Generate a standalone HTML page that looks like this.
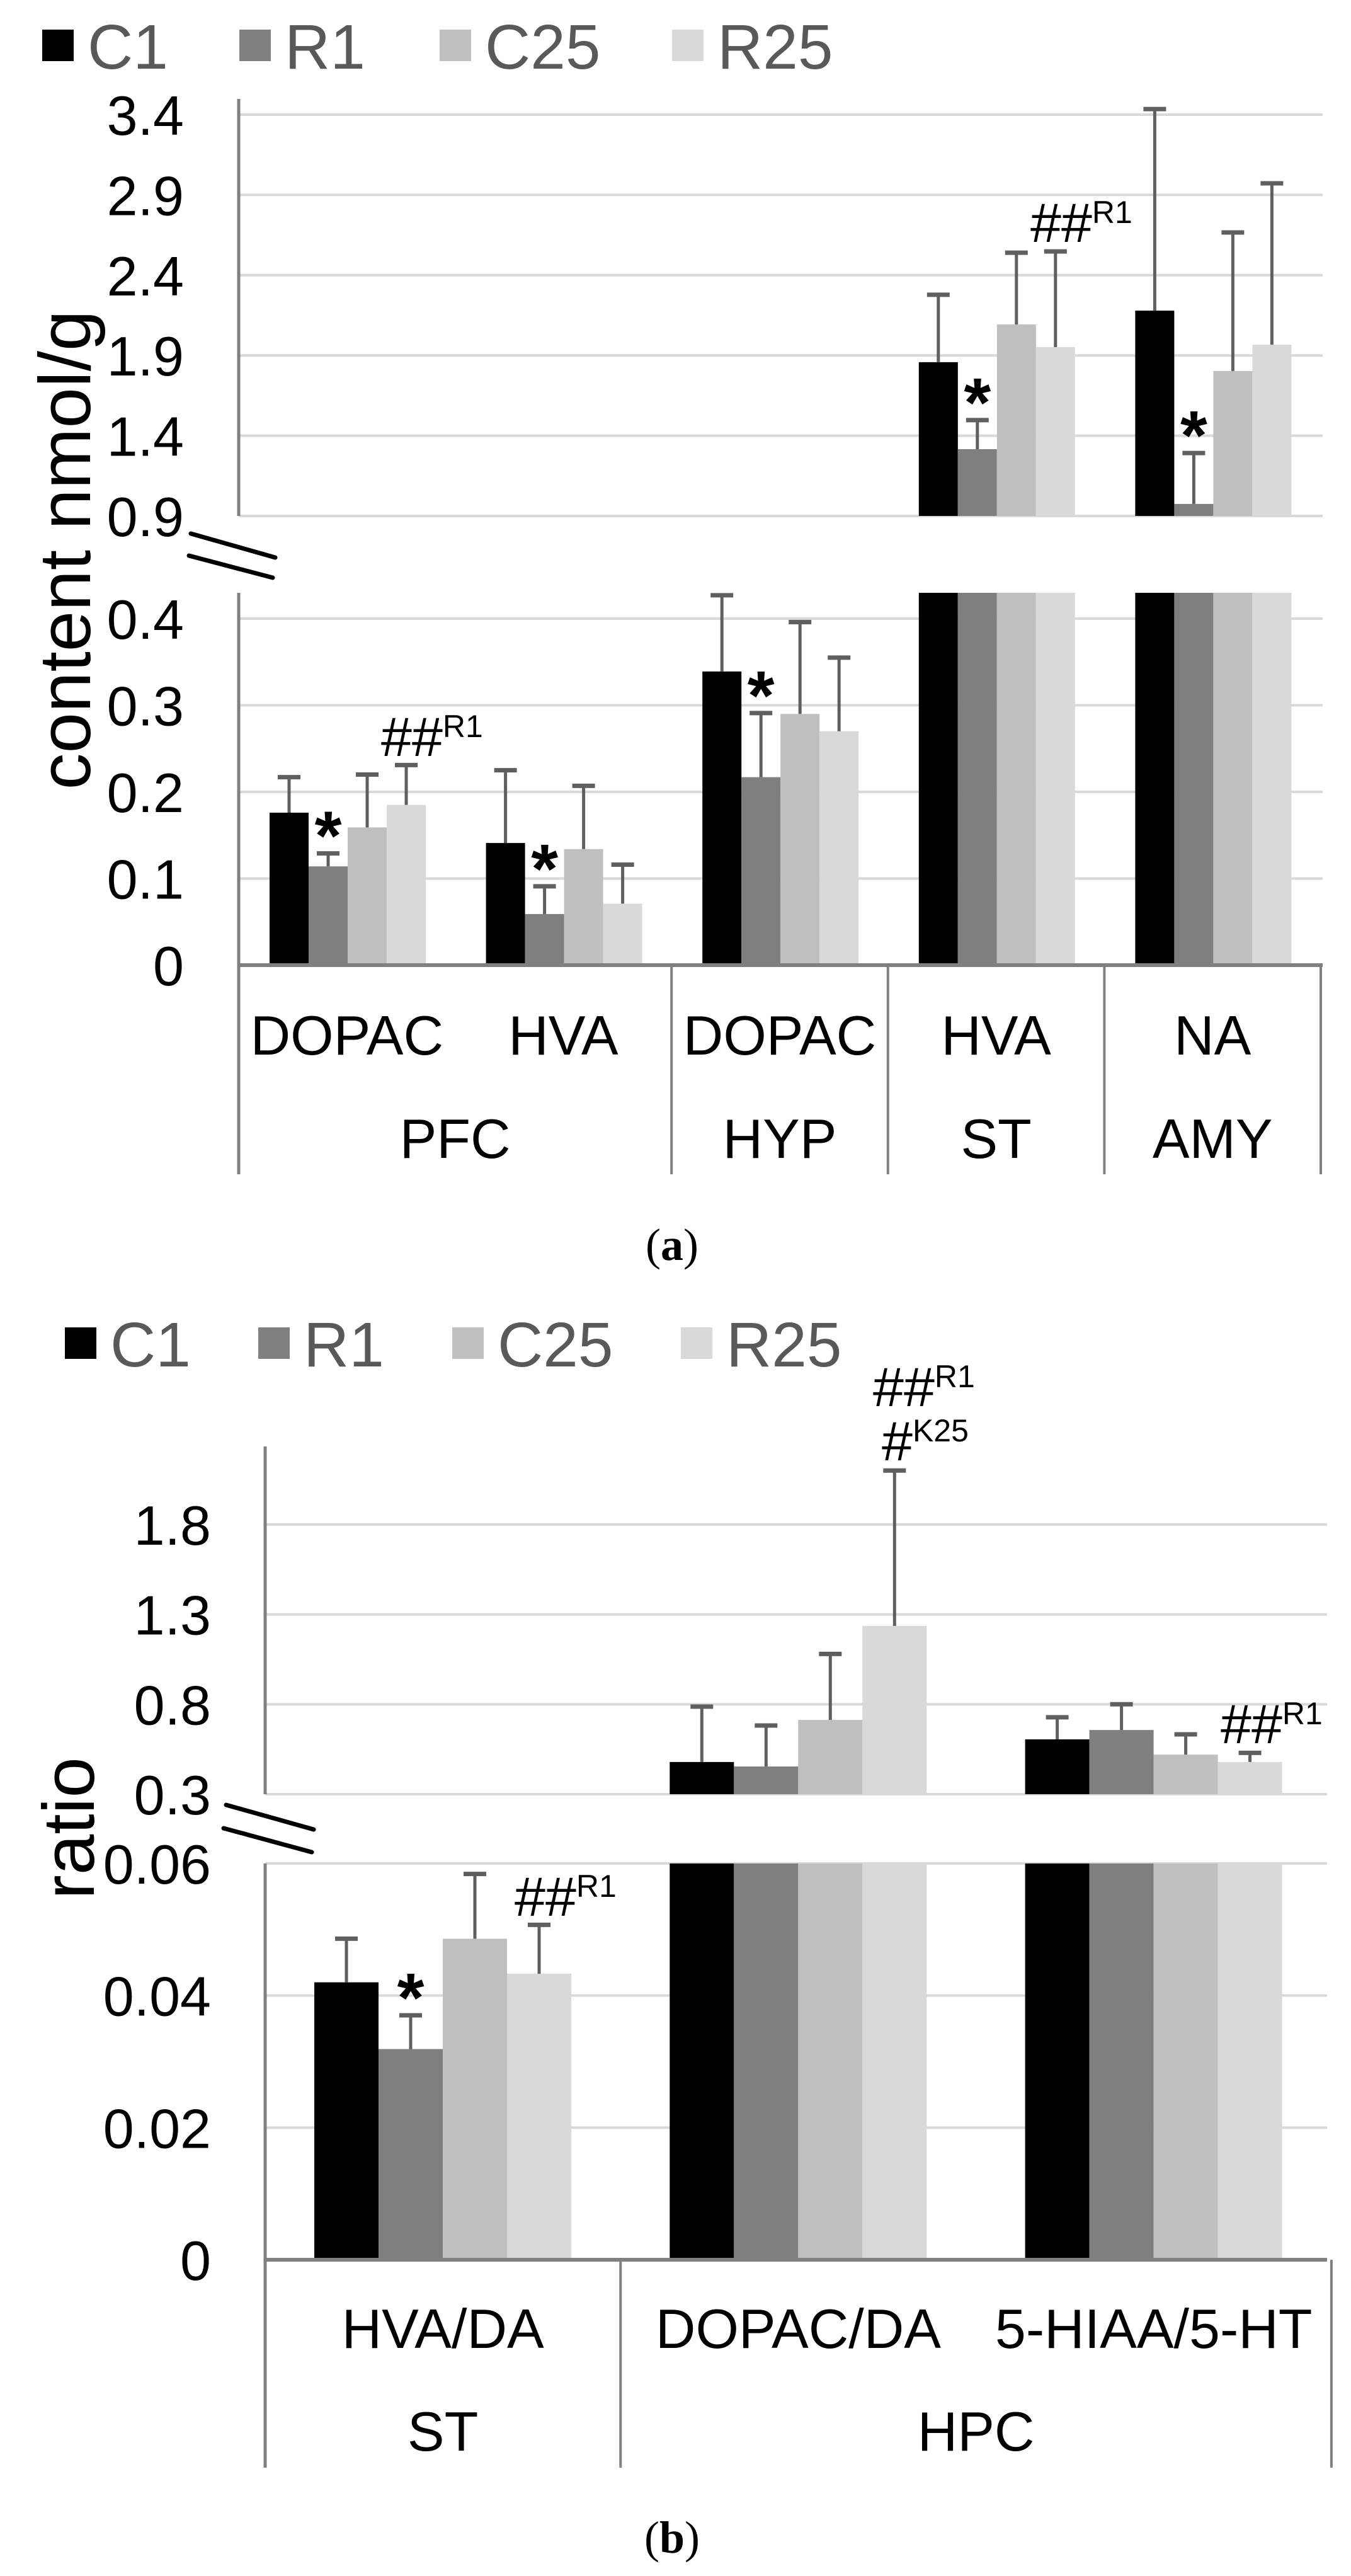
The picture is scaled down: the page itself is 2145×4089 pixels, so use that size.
<!DOCTYPE html>
<html><head><meta charset="utf-8"><style>
html,body{margin:0;padding:0;background:#fff;}
svg{display:block;}
text{font-family:"Liberation Sans",Arial,sans-serif;}
</style></head>
<body>
<svg id="chart" width="2145" height="4089" viewBox="0 0 2145 4089" xmlns="http://www.w3.org/2000/svg"></svg>
<script>
// ---------- DATA ----------
const seriesNames = ["C1", "R1", "C25", "R25"];
const seriesColors = ["#000000", "#7f7f7f", "#bfbfbf", "#d9d9d9"];

// Panel (a): content nmol/g
const aCategories = ["DOPAC", "HVA", "DOPAC", "HVA", "NA"];
const aRegions = ["PFC", "HYP", "ST", "AMY"];
const aRegionSizes = [2, 1, 1, 1];
const aC1 = [0.176, 0.141, 0.339, 1.858, 2.179];
const aR1 = [0.114, 0.059, 0.217, 1.316, 0.975];
const aC25 = [0.159, 0.134, 0.290, 2.093, 1.803];
const aR25 = [0.185, 0.071, 0.270, 1.952, 1.967];
const aC1Err = [0.217, 0.225, 0.427, 2.278, 3.435];
const aR1Err = [0.129, 0.091, 0.291, 1.497, 1.292];
const aC25Err = [0.220, 0.207, 0.396, 2.540, 2.666];
const aR25Err = [0.231, 0.116, 0.355, 2.548, 2.972];
const aLowerTicks = [0, 0.1, 0.2, 0.3, 0.4];
const aUpperTicks = [0.9, 1.4, 1.9, 2.4, 2.9, 3.4];
const aLowerTickLabels = ["0", "0.1", "0.2", "0.3", "0.4"];
const aUpperTickLabels = ["0.9", "1.4", "1.9", "2.4", "2.9", "3.4"];

// Panel (b): ratio
const bCategories = ["HVA/DA", "DOPAC/DA", "5-HIAA/5-HT"];
const bRegions = ["ST", "HPC"];
const bRegionSizes = [1, 2];
const bC1 = [0.042, 0.479, 0.605];
const bR1 = [0.0319, 0.454, 0.657];
const bC25 = [0.0486, 0.713, 0.520];
const bR25 = [0.0433, 1.236, 0.479];
const bC1Err = [0.0486, 0.787, 0.728];
const bR1Err = [0.037, 0.682, 0.800];
const bC25Err = [0.0584, 1.080, 0.633];
const bR25Err = [0.0507, 2.100, 0.530];
const bLowerTicks = [0, 0.02, 0.04, 0.06];
const bUpperTicks = [0.3, 0.8, 1.3, 1.8];
const bLowerTickLabels = ["0", "0.02", "0.04", "0.06"];
const bUpperTickLabels = ["0.3", "0.8", "1.3", "1.8"];

// ---------- DRAWING ----------
const NS = "http://www.w3.org/2000/svg";
const svg = document.getElementById("chart");
function mk(tag, attrs, parent) {
  const e = document.createElementNS(NS, tag);
  for (const k in attrs) e.setAttribute(k, attrs[k]);
  (parent || svg).appendChild(e);
  return e;
}

function drawPanel(P) {
  const g = mk("g", {});
  
  
  // axis functions
  const lowerMax = (P.lowerBase - P.lowerTop) / P.lowerPx;
  function yLower(v) { return P.lowerBase - v * P.lowerPx; }
  function yUpper(v) { return P.upperBase - (v - P.upperMin) * P.upperPx; }
  function yVal(v) { return v <= lowerMax ? yLower(v) : yUpper(v); }
  function xBar(gi, si) { return P.axisX + gi * P.groupW + P.barOff + si * P.barW; }

  // gridlines
  P.lowerTicks.forEach((t, i) => {
    const y = yLower(t);
    if (t > 0) {
      const l = mk("line", {x1: P.axisX, x2: P.right, y1: y, y2: y, stroke: "#d9d9d9", "stroke-width": 4}, g);
      
      
    }
    const tx = mk("text", {x: P.tickRight, y: y + 32, "text-anchor": "end", "font-size": 88, fill: "#000"}, g);
    tx.textContent = P.lowerTickLabels[i];
    
    
  });
  P.upperTicks.forEach((t, i) => {
    const y = yUpper(t);
    const l = mk("line", {x1: P.axisX, x2: P.right, y1: y, y2: y, stroke: "#d9d9d9", "stroke-width": 4}, g);
    
    
    const tx = mk("text", {x: P.tickRight, y: y + 32, "text-anchor": "end", "font-size": 88, fill: "#000"}, g);
    tx.textContent = P.upperTickLabels[i];
    
    
  });

  // bars
  P.series.forEach((vals, si) => {
    vals.forEach((v, gi) => {
      const x = xBar(gi, si);
      if (v <= lowerMax) {
        const r = mk("rect", {x: x, y: yLower(v), width: P.barW, height: P.lowerBase - yLower(v), fill: seriesColors[si]}, g);
        
        
      } else {
        const r1 = mk("rect", {x: x, y: P.lowerTop, width: P.barW, height: P.lowerBase - P.lowerTop, fill: seriesColors[si]}, g);
        
        
        const r2 = mk("rect", {x: x, y: yUpper(v), width: P.barW, height: P.upperBase - yUpper(v), fill: seriesColors[si]}, g);
        
        
      }
    });
  });
  // error bars
  P.errs.forEach((errs, si) => {
    errs.forEach((e, gi) => {
      const cx = xBar(gi, si) + P.barW / 2;
      const y0 = yVal(P.series[si][gi]);
      const y1 = yVal(e);
      const eg = mk("g", {stroke: "#5f5f5f", "stroke-width": 5}, g);
      
      
      mk("line", {x1: cx, x2: cx, y1: y0, y2: y1}, eg);
      mk("line", {x1: cx - 18, x2: cx + 18, y1: y1, y2: y1, "stroke-width": 7}, eg);
    });
  });

  // axes
  const ax = mk("g", {stroke: "#808080", "stroke-width": 5, fill: "none"}, g);
  
  
  mk("line", {x1: P.axisX, x2: P.axisX, y1: P.upperTopAxis, y2: P.upperBase}, ax);
  mk("line", {x1: P.axisX, x2: P.axisX, y1: P.lowerTop, y2: P.catBottom}, ax);
  const xa = mk("line", {x1: P.axisX, x2: P.right, y1: P.lowerBase, y2: P.lowerBase, stroke: "#808080", "stroke-width": 6}, g);
  
  
  // region separators
  let acc = 0;
  const seps = [0];
  P.regionSizes.forEach(s => { acc += s; seps.push(acc); });
  seps.forEach(k => {
    const x = P.axisX + k * P.groupW;
    const l = mk("line", {x1: x, x2: x, y1: P.lowerBase, y2: P.catBottom, stroke: "#808080", "stroke-width": 4}, g);
    
    
  });
  // category labels
  P.categories.forEach((c, gi) => {
    const t = mk("text", {x: P.axisX + (gi + 0.5) * P.groupW, y: P.catY1, "text-anchor": "middle", "font-size": 88, fill: "#000"}, g);
    t.textContent = c;
    
    
  });
  P.regions.forEach((r, ri) => {
    const x = P.axisX + (seps[ri] + seps[ri + 1]) / 2 * P.groupW;
    const t = mk("text", {x: x, y: P.catY2, "text-anchor": "middle", "font-size": 88, fill: "#000"}, g);
    t.textContent = r;
    
    
  });

  // break marks
  const br = mk("g", {stroke: "#000", "stroke-width": 7, "stroke-linecap": "round"}, g);
  
  
  P.breakLines.forEach(b => mk("line", {x1: b[0], y1: b[1], x2: b[2], y2: b[3]}, br));

  // y title
  const yt = mk("text", {x: 0, y: 0, "text-anchor": "middle", "font-size": 116, fill: "#000",
    transform: "translate(" + P.titleX + "," + P.titleY + ") rotate(-90)"}, g);
  yt.textContent = P.title;
  
  

  // legend
  P.legendX.forEach((lx, si) => {
    const lg = mk("g", {}, g);
    
    
    mk("rect", {x: lx, y: P.legendY - 26, width: 50, height: 50, fill: seriesColors[si]}, lg);
    const t = mk("text", {x: lx + 72, y: P.legendY + 36, "font-size": 100, fill: "#595959"}, lg);
    t.textContent = seriesNames[si];
  });

  // asterisks above R1 error bars (from data)
  P.starGroups.forEach(gi => {
    const cx = xBar(gi, 1) + P.barW / 2;
    const t = mk("text", {x: cx, y: yVal(P.errs[1][gi]) + 10, "text-anchor": "middle", "font-size": 110, "font-weight": "bold", fill: "#000"}, g);
    t.textContent = "*";
    
    
  });
  // hash annotations
  P.hashes.forEach(h => {
    const t = mk("text", {x: h[0], y: h[1], "font-size": 88, fill: "#000"}, g);
    
    
    t.appendChild(document.createTextNode(h[2]));
    const s = mk("tspan", {"font-size": 50, dy: -30}, t);
    s.textContent = h[3];
  });
}

drawPanel({
  name: "panel-a-chart", axisX: 379, right: 2100, groupW: 343.6, barOff: 49, barW: 62,
  lowerBase: 1532, lowerPx: 1375, lowerTop: 941, upperBase: 819, upperMin: 0.9, upperPx: 254.8,
  upperTopAxis: 157, catBottom: 1864, catY1: 1674, catY2: 1838, tickRight: 292,
  lowerTicks: aLowerTicks, upperTicks: aUpperTicks, lowerTickLabels: aLowerTickLabels, upperTickLabels: aUpperTickLabels,
  series: [aC1, aR1, aC25, aR25], errs: [aC1Err, aR1Err, aC25Err, aR25Err],
  categories: aCategories, regions: aRegions, regionSizes: aRegionSizes,
  breakLines: [[303, 847, 437, 885], [300, 882, 433, 917]],
  title: "content nmol/g", titleX: 143, titleY: 873,
  legendX: [67, 380, 698, 1067], legendY: 73,
  starGroups: [0, 1, 2, 3, 4],
  hashes: [[605, 1200, "##", "R1"], [1636, 384, "##", "R1"]]
});

drawPanel({
  name: "panel-b-chart", axisX: 421, right: 2107, groupW: 564.3, barOff: 78, barW: 102,
  lowerBase: 3587, lowerPx: 10485, lowerTop: 2958, upperBase: 2848, upperMin: 0.3, upperPx: 285.4,
  upperTopAxis: 2296, catBottom: 3917, catY1: 3727, catY2: 3890, tickRight: 335,
  lowerTicks: bLowerTicks, upperTicks: bUpperTicks, lowerTickLabels: bLowerTickLabels, upperTickLabels: bUpperTickLabels,
  series: [bC1, bR1, bC25, bR25], errs: [bC1Err, bR1Err, bC25Err, bR25Err],
  categories: bCategories, regions: bRegions, regionSizes: bRegionSizes,
  breakLines: [[359, 2865, 498, 2904], [355, 2902, 495, 2940]],
  title: "ratio", titleX: 149, titleY: 2902,
  legendX: [103, 410, 718, 1081], legendY: 2133,
  starGroups: [0],
  hashes: [[817, 3041, "##", "R1"], [1386, 2232, "##", "R1"], [1400, 2318, "#", "K25"], [1938, 2767, "##", "R1"]]
});

// captions
[["(", "a", ")", 2000, "caption-a"], ["(", "b", ")", 4052, "caption-b"]].forEach(c => {
  const t = mk("text", {x: 1067, y: c[3], "text-anchor": "middle", "font-size": 72, fill: "#000",
    style: "font-family:'Liberation Serif',serif"});
  
  
  t.appendChild(document.createTextNode(c[0]));
  const b = mk("tspan", {"font-weight": "bold"}, t);
  b.textContent = c[1];
  t.appendChild(document.createTextNode(c[2]));
});
</script>
</body></html>
